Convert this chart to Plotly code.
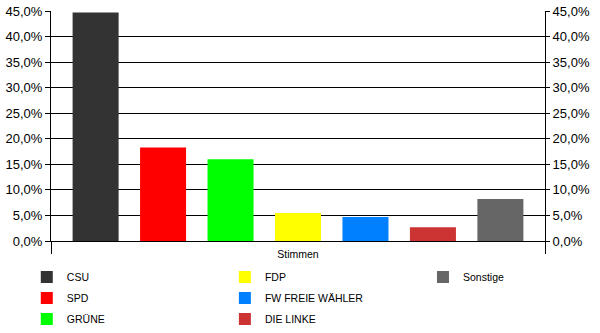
import plotly.graph_objects as go

parties = ["CSU", "SPD", "GRÜNE", "FDP", "FW FREIE WÄHLER", "DIE LINKE", "Sonstige"]
values = [44.7, 18.3, 16.0, 5.5, 4.7, 2.7, 8.2]
colors = ["#333333", "#FF0000", "#00FF00", "#FFFF00", "#0080FF", "#CC3333", "#666666"]
legend_ids = ["legend", "legend", "legend", "legend2", "legend2", "legend2", "legend3"]
category = ["Stimmen"]
y_ticks = [0, 5, 10, 15, 20, 25, 30, 35, 40, 45]
y_tick_labels = ["0,0%", "5,0%", "10,0%", "15,0%", "20,0%", "25,0%", "30,0%", "35,0%", "40,0%", "45,0%"]

FONT = "Liberation Sans, Arial, sans-serif"

fig = go.Figure()
for name, val, col, lg in zip(parties, values, colors, legend_ids):
    fig.add_trace(go.Bar(
        x=category, y=[val], name=name, marker=dict(color=col, line=dict(width=0)),
        legend=lg, legendgroup=name, hoverinfo="name+y",
    ))

# invisible helper trace so that the right-hand value axis is drawn
fig.add_trace(go.Scatter(
    x=category, y=[values[0]], yaxis="y2", mode="none",
    showlegend=False, hoverinfo="skip",
))

axis_common = dict(
    range=[0, 45], tickvals=y_ticks, ticktext=y_tick_labels,
    showline=True, linecolor="black", linewidth=1,
    ticks="outside", tickcolor="black", tickwidth=1,
    tickfont=dict(family=FONT, size=13, color="black"),
    zeroline=False, automargin=False,
)

leg_common = dict(
    orientation="v", xanchor="left", yanchor="top", bgcolor="rgba(0,0,0,0)",
    font=dict(family=FONT, size=10.5, color="black"), tracegroupgap=2,
    itemclick=False, itemdoubleclick=False,
)

fig.update_layout(
    width=600, height=333,
    margin=dict(l=51, r=55, t=11, b=92, autoexpand=False),
    paper_bgcolor="white", plot_bgcolor="white",
    barmode="group", bargap=0.044, bargroupgap=0.318,
    xaxis=dict(
        type="category", range=[-0.5, 0.5], showline=True, linecolor="black", linewidth=1,
        ticks="outside", tickson="boundaries", ticklen=12, tickcolor="black",
        showgrid=False, tickfont=dict(family=FONT, size=10.5, color="black"),
        ticklabelstandoff=3, automargin=False,
    ),
    yaxis=dict(**axis_common, ticklen=5, showgrid=True, gridcolor="black", gridwidth=1),
    yaxis2=dict(**axis_common, ticklen=4, overlaying="y", side="right", matches="y",
                showgrid=False, anchor="x"),
    legend=dict(**leg_common, x=-0.049, y=-0.093),
    legend2=dict(**leg_common, x=0.352, y=-0.093),
    legend3=dict(**leg_common, x=0.753, y=-0.093),
    showlegend=True,
)

fig.write_html("out.html")
